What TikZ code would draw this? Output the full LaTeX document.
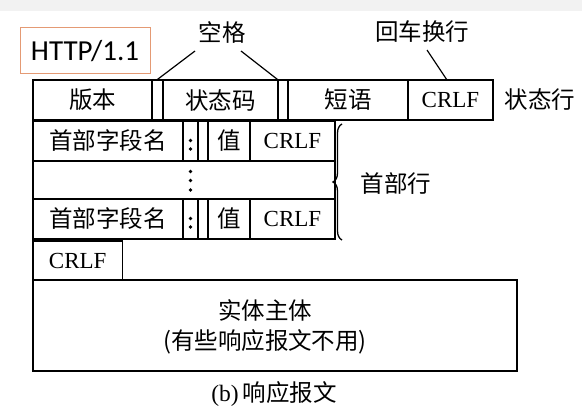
\documentclass[tikz,border=0pt]{standalone}
\usepackage{fontspec}
\setmainfont{Liberation Serif}
\newfontfamily\cjk{Noto Sans CJK SC}
\newfontfamily\httpfont{Carlito}
\usetikzlibrary{decorations.pathreplacing}
\definecolor{orangeb}{HTML}{E49A74}
\tikzset{
  cell/.style={draw, line width=1.2pt, inner sep=0pt, font=\fontsize{23.5}{23.5}\selectfont\cjk},
  rowbox/.style={draw, line width=1.9pt, inner sep=0pt},
  lbl/.style={inner sep=0pt, font=\fontsize{23.5}{23.5}\selectfont\cjk},
  crlf/.style={font=\fontsize{23}{23}\selectfont\rmfamily},
  pointer/.style={line width=1.2pt},
  dotc/.style={fill=black, circle, inner sep=0pt, minimum size=3.6pt}
}
\begin{document}
\begin{tikzpicture}[x=1pt,y=-1pt]
\useasboundingbox (0,0) rectangle (582,412);
\fill[white] (0,0) rectangle (582,412);
\fill[black!5] (0,0) rectangle (582,11);
% HTTP/1.1 box
\node[draw=orangeb, line width=1pt, minimum width=130pt, minimum height=46pt, inner sep=0pt,
  font=\fontsize{29}{29}\selectfont\httpfont] (http) at (85,51) {HTTP/1.1};
% status line
\node[cell, minimum width=119pt, minimum height=40pt] (ver) at (92.5,100) {版本};
\node[cell, minimum width=11pt, minimum height=40pt] (sp1) at (157.5,100) {};
\node[cell, minimum width=115pt, minimum height=40pt] (code) at (220.5,100) {状态码};
\node[cell, minimum width=10pt, minimum height=40pt] (sp2) at (283,100) {};
\node[cell, minimum width=120pt, minimum height=40pt] (phrase) at (348,100) {短语};
\node[cell, crlf, minimum width=85pt, minimum height=40pt] (crlf1) at (450.5,100) {CRLF};
\node[rowbox, minimum width=460pt, minimum height=40pt] (status) at (263,100) {};
\node[lbl] (statuslbl) at (540,100) {状态行};
% header row 1
\node[cell, minimum width=150pt, minimum height=40pt] (name1) at (108,141) {首部字段名};
\node[cell, minimum width=15pt, minimum height=40pt] (col1) at (190.5,141) {};
\node[cell, minimum width=10pt, minimum height=40pt] (hs1) at (203,141) {};
\node[cell, minimum width=42pt, minimum height=40pt] (val1) at (229,141) {值};
\node[cell, crlf, minimum width=85pt, minimum height=40pt] (crlf2) at (292.5,141) {CRLF};
\node[rowbox, minimum width=302pt, minimum height=40pt] (hrow1) at (184,141) {};
\node[dotc] (c1a) at (190.5,140.5) {};
\node[dotc] (c1b) at (190.5,149) {};
% dots row
\node[rowbox, minimum width=302pt, minimum height=38pt] (hdots) at (184,180) {};
\node[dotc] (d1) at (190.5,171.5) {};
\node[dotc] (d2) at (190.5,180.5) {};
\node[dotc] (d3) at (190.5,190) {};
% header row 3
\node[cell, minimum width=150pt, minimum height=40pt] (name3) at (108,219) {首部字段名};
\node[cell, minimum width=15pt, minimum height=40pt] (col3) at (190.5,219) {};
\node[cell, minimum width=10pt, minimum height=40pt] (hs3) at (203,219) {};
\node[cell, minimum width=42pt, minimum height=40pt] (val3) at (229,219) {值};
\node[cell, crlf, minimum width=85pt, minimum height=40pt] (crlf3) at (292.5,219) {CRLF};
\node[rowbox, minimum width=302pt, minimum height=40pt] (hrow3) at (184,219) {};
\node[dotc] (c3a) at (190.5,218.5) {};
\node[dotc] (c3b) at (190.5,227) {};
% brace
\coordinate (bt) at (342,124);
\coordinate (bb) at (342,240);
\draw[line width=1.3pt, decorate, decoration={brace, amplitude=9pt, mirror}] (bt) -- (bb);
\node[lbl] (hdrlbl) at (396,184) {首部行};
% empty line CRLF
\node[rowbox, crlf, minimum width=89.5pt, minimum height=39.5pt] (crlf4) at (77.75,260.5) {CRLF};
% entity body
\node[rowbox, minimum width=484pt, minimum height=90.5pt] (body) at (275,325.5) {};
\node[lbl] (bodyt1) at (265,310) {实体主体};
\node[lbl] (bodyt2) at (265,342) {(有些响应报文不用)};
% caption
\node[lbl] (cap) at (274,394) {{\rmfamily (b)}\,响应报文};
% pointer labels
\node[lbl] (space) at (222,33) {空格};
\node[lbl] (crlflbl) at (422,32) {回车换行};
\coordinate (s1) at (195,51);
\coordinate (s2) at (241,51);
\coordinate (r1) at (427,50);
\draw[pointer] (s1) -- (sp1.north);
\draw[pointer] (s2) -- (sp2.north west);
\draw[pointer] (r1) -- (447,80);
\end{tikzpicture}
\end{document}
